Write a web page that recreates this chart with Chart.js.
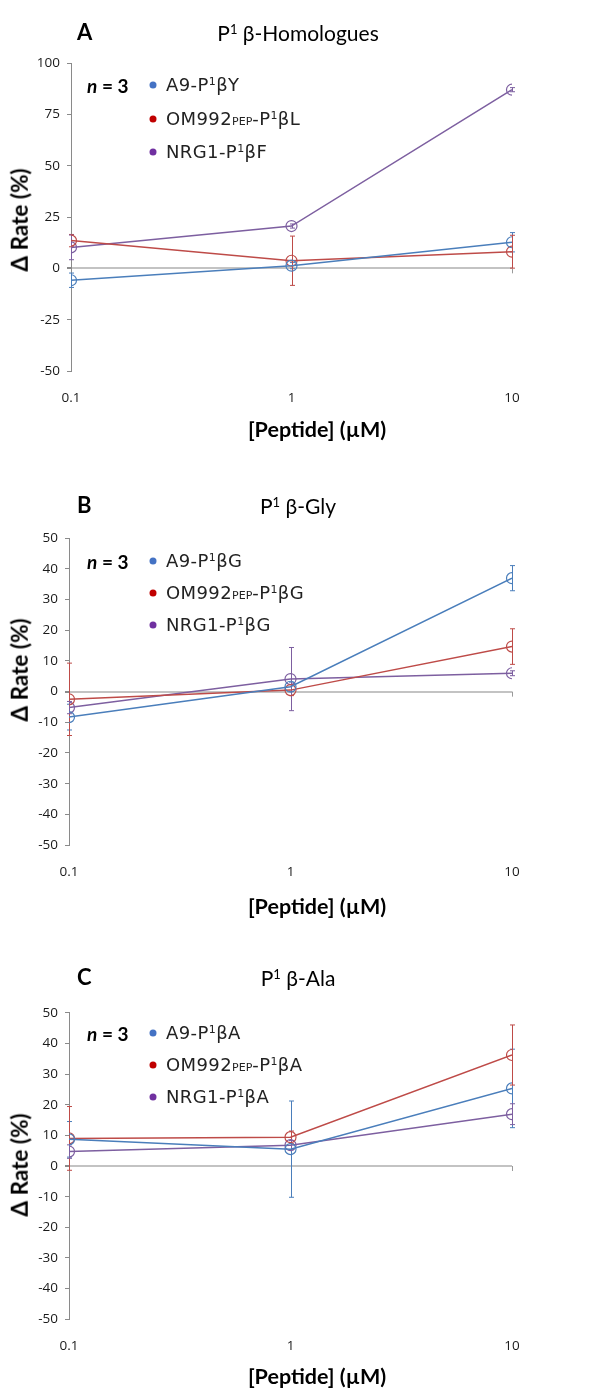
<!DOCTYPE html>
<html>
<head>
<meta charset="utf-8">
<script src="https://cdn.jsdelivr.net/npm/chart.js@4/dist/chart.umd.min.js"></script>
<style>
  html, body { margin: 0; padding: 0; background: #fff; }
  body { width: 605px; height: 1392px; position: relative; overflow: hidden; font-family: Lato, "Open Sans", sans-serif; color: #000; }
  .cv { position: absolute; left: 0; width: 605px; }
  .t { position: absolute; white-space: nowrap; line-height: 1; }
  .letter { font-weight: bold; font-size: 22px; transform: translateY(-50%); }
  .title { font-size: 21px; transform: translate(-50%, -50%); }
  .n3 { font-weight: bold; font-size: 19px; transform: translateY(-50%); }
  .leg { font-family: "DejaVu Sans", sans-serif; font-size: 18px; letter-spacing: 0.4px; color: #222; transform: translateY(-50%); }
  .leg sub { font-size: 11px; letter-spacing: 0; vertical-align: baseline; }
  .leg sup { font-size: 11px; vertical-align: 6px; }
  .dot { position: absolute; width: 7px; height: 7px; border-radius: 50%; transform: translate(-50%, -50%); }
  .xt { font-weight: bold; font-size: 21.5px; transform: translate(-50%, -50%); }
  .yt { font-weight: bold; font-size: 22.5px; transform: translate(-50%, -50%) rotate(-90deg); }
</style>
</head>
<body>
<script>
// ---------- data ----------
const xValues = [0.1, 1, 10];
const xTickValues = [0.1, 1, 10];
const seriesNames = {
  A: ['A9-P¹βY', 'OM992|PEP|-P¹βL', 'NRG1-P¹βF'],
  B: ['A9-P¹βG', 'OM992|PEP|-P¹βG', 'NRG1-P¹βG'],
  C: ['A9-P¹βA', 'OM992|PEP|-P¹βA', 'NRG1-P¹βA']
};
const panelTitles = { A: 'P¹ β-Homologues', B: 'P¹ β-Gly', C: 'P¹ β-Ala' };

// Panel A
const A_A9 = [-5.8, 1.3, 12.7];
const A_A9_err = [3.5, 1.5, 4.7];
const A_OM = [13.5, 3.7, 8.1];
const A_OM_err = [3.0, 12.0, 8.0];
const A_NRG = [10.2, 20.6, 87.0];
const A_NRG_err = [6.0, 1.0, 1.0];
const A_yTicks = { min: -50, max: 100, step: 25 };

// Panel B
const B_A9 = [-8.3, 1.6, 37.0];
const B_A9_err = [4.2, 1.5, 4.1];
const B_OM = [-2.5, 0.5, 14.7];
const B_OM_err = [11.8, 1.8, 5.8];
const B_NRG = [-5.2, 4.1, 6.0];
const B_NRG_err = [2.0, 10.3, 0.8];
const B_yTicks = { min: -50, max: 50, step: 10 };

// Panel C
const C_A9 = [8.7, 5.5, 25.3];
const C_A9_err = [5.8, 15.7, 12.8];
const C_OM = [9.0, 9.4, 36.2];
const C_OM_err = [10.4, 2.0, 9.8];
const C_NRG = [4.7, 6.8, 16.9];
const C_NRG_err = [2.2, 1.5, 3.4];
const C_yTicks = { min: -50, max: 50, step: 10 };

// ---------- styles ----------
const lineColors = ['#4a7ebb', '#be4b48', '#7d5fa0'];
const dotColors = ['#4472c4', '#c00000', '#7030a0'];

const panels = [
  { key: 'A', series: [A_A9, A_OM, A_NRG], errs: [A_A9_err, A_OM_err, A_NRG_err], yt: A_yTicks,
    canvasTop: 0, H: 450, left: 71, right: 512, top: 63, bottom: 371, tickY: 398,
    titleY: 32, legY: [85, 119, 152], xTitle: [317, 430], yTitle: [20, 220] },
  { key: 'B', series: [B_A9, B_OM, B_NRG], errs: [B_A9_err, B_OM_err, B_NRG_err], yt: B_yTicks,
    canvasTop: 475, H: 450, left: 69, right: 512, top: 538.3, bottom: 845, tickY: 872,
    titleY: 505, legY: [561, 593, 625], xTitle: [317, 907], yTitle: [20, 670] },
  { key: 'C', series: [C_A9, C_OM, C_NRG], errs: [C_A9_err, C_OM_err, C_NRG_err], yt: C_yTicks,
    canvasTop: 950, H: 442, left: 69, right: 512, top: 1012.7, bottom: 1319.3, tickY: 1346,
    titleY: 977, legY: [1033, 1065, 1097], xTitle: [317, 1377], yTitle: [20, 1165] }
];

function addText(cls, html, x, y) {
  const d = document.createElement('div');
  d.className = 't ' + cls;
  d.innerHTML = html;
  d.style.left = x + 'px';
  d.style.top = y + 'px';
  document.body.appendChild(d);
  return d;
}
function fmtName(s) {
  const parts = s.split('|');
  let out = parts[0];
  if (parts.length > 1) out += '<sub>' + parts[1] + '</sub>' + parts[2];
  return out.replace('¹', '<sup>1</sup>');
}

const errorBarPlugin = {
  id: 'errorBars',
  beforeDatasetsDraw(chart) {
    const { ctx, scales: { x, y } } = chart;
    ctx.save();
    ctx.strokeStyle = '#9a9a9a';
    ctx.lineWidth = 1;
    const y0 = y.getPixelForValue(0);
    xTickValues.slice(1).forEach(v => {
      const px = Math.round(x.getPixelForValue(v)) + 0.5;
      ctx.beginPath(); ctx.moveTo(px, y0); ctx.lineTo(px, y0 + 5); ctx.stroke();
    });
    chart.data.datasets.forEach(ds => {
      ctx.strokeStyle = ds.borderColor;
      ctx.lineWidth = 1;
      ds.data.forEach((p, i) => {
        const e = ds.errors[i];
        const px = Math.round(x.getPixelForValue(p.x)) + 0.5;
        const yt = y.getPixelForValue(p.y + e);
        const yb = y.getPixelForValue(p.y - e);
        ctx.beginPath();
        ctx.moveTo(px, yt); ctx.lineTo(px, yb);
        ctx.moveTo(px - 2.5, yt); ctx.lineTo(px + 2.5, yt);
        ctx.moveTo(px - 2.5, yb); ctx.lineTo(px + 2.5, yb);
        ctx.stroke();
      });
    });
    ctx.restore();
  }
};

panels.forEach(P => {
  const c = document.createElement('canvas');
  c.className = 'cv';
  c.style.top = P.canvasTop + 'px';
  c.style.height = P.H + 'px';
  c.width = 605; c.height = P.H;
  document.body.appendChild(c);

  const localTop = P.top - P.canvasTop;
  const localBottom = P.bottom - P.canvasTop;
  const xAxisH = P.H - localBottom;
  const tickPad = (P.tickY - P.bottom) - 8.4;

  const datasets = P.series.map((vals, si) => ({
    label: seriesNames[P.key][si].replace(/\|/g, ''),
    data: xValues.map((xv, i) => ({ x: xv, y: vals[i] })),
    errors: P.errs[si],
    borderColor: lineColors[si],
    backgroundColor: 'rgba(0,0,0,0)',
    borderWidth: 1.5,
    pointRadius: 5.5,
    pointBorderWidth: 1.2,
    pointBackgroundColor: 'rgba(255,255,255,0)',
    pointBorderColor: lineColors[si],
    tension: 0
  }));

  new Chart(c, {
    type: 'line',
    data: { datasets },
    plugins: [errorBarPlugin],
    options: {
      responsive: false,
      animation: false,
      events: [],
      layout: { padding: { left: 0, right: 605 - P.right, top: localTop, bottom: 0 } },
      plugins: { legend: { display: false }, tooltip: { enabled: false }, title: { display: false } },
      scales: {
        x: {
          type: 'logarithmic', min: 0.1, max: 10,
          afterBuildTicks: s => { s.ticks = xTickValues.map(v => ({ value: v })); },
          afterFit: s => { s.height = xAxisH; },
          grid: { display: false, drawTicks: false },
          border: { display: false },
          ticks: { padding: tickPad, color: '#1a1a1a', font: { family: 'Open Sans', size: 13.5 },
                   callback: v => String(v), maxRotation: 0, autoSkip: false }
        },
        y: {
          min: P.yt.min, max: P.yt.max,
          afterFit: s => { s.width = P.left; },
          ticks: { stepSize: P.yt.step, padding: 7, color: '#1a1a1a', font: { family: 'Open Sans', size: 13.5 } },
          grid: {
            drawOnChartArea: true,
            color: ctx => (ctx.tick && ctx.tick.value === 0) ? '#c3c3c3' : 'rgba(0,0,0,0)',
            lineWidth: ctx => (ctx.tick && ctx.tick.value === 0) ? 2 : 1,
            tickColor: '#8a8a8a', tickLength: 4, drawTicks: true
          },
          border: { display: true, color: '#8a8a8a', width: 1 }
        }
      }
    }
  });

  addText('letter', P.key, 77, P.titleY);
  addText('title', panelTitles[P.key].replace('¹', '<sup style="font-size:13px;vertical-align:7px">1</sup>'), 298, P.titleY);
  addText('n3', '<i>n</i> = 3', 87, P.legY[0]);
  P.legY.forEach((ly, i) => {
    const d = document.createElement('div');
    d.className = 'dot';
    d.style.left = '153px'; d.style.top = ly + 'px';
    d.style.background = dotColors[i];
    document.body.appendChild(d);
    addText('leg', fmtName(seriesNames[P.key][i]), 166, ly);
  });
  addText('xt', '[Peptide] (µM)', P.xTitle[0], P.xTitle[1]);
  addText('yt', 'Δ Rate (%)', P.yTitle[0], P.yTitle[1]);
});
</script>
</body>
</html>
